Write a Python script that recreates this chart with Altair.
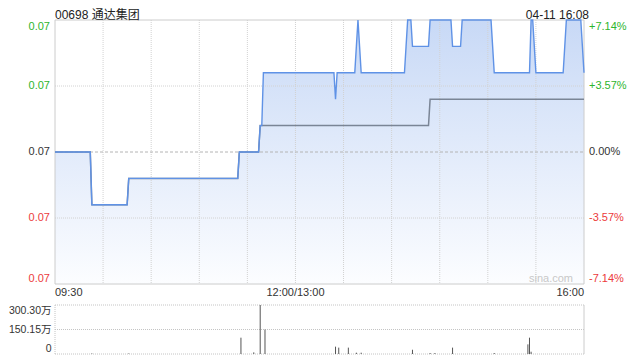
import altair as alt
import pandas as pd

# ---------------- data ----------------
stock_title = "00698 通达集团"
stamp_text = "04-11 16:08"
watermark_text = "sina.com"
prev_close = 0.070
price_domain = [0.065, 0.075]
pct_domain = [-7.14, 7.14]
vol_max = 300.30
session_end = 330  # minutes after 09:30, lunch break removed

# price (step runs: first minute of each run, price of the run)
price_run_start = [0, 23, 46, 115, 128, 130, 175, 176, 188, 189, 190, 191,
                   219, 220, 223, 234, 248, 254, 273, 274, 297, 299, 300,
                   318, 319, 329, 330]
price_run_value = [0.070, 0.068, 0.069, 0.070, 0.071, 0.073, 0.072, 0.073,
                   0.074, 0.075, 0.074, 0.073,
                   0.074, 0.075, 0.074, 0.075, 0.074, 0.075, 0.074, 0.073,
                   0.075, 0.074, 0.073,
                   0.074, 0.075, 0.074, 0.073]
# average price (step runs)
avg_run_start = [0, 23, 46, 115, 128, 234]
avg_run_value = [0.070, 0.068, 0.069, 0.070, 0.071, 0.072]

# volume (minute, 万股)
vol_minute = [23, 46, 116, 124, 128, 131, 175, 177, 183, 188, 191, 223,
              234, 237, 248, 274, 295, 296, 297]
vol_wan = [3, 3, 100, 10, 300.30, 150, 45, 39, 39, 8, 8, 26,
           6, 6, 39, 6, 59, 100, 14]

price_ticks = [0.075, 0.0725, 0.070, 0.0675, 0.065]
price_tick_labels = ["0.07", "0.07", "0.07", "0.07", "0.07"]
pct_ticks = [7.14, 3.57, 0.0, -3.57, -7.14]
pct_tick_labels = ["+7.14%", "+3.57%", "0.00%", "-3.57%", "-7.14%"]
vol_ticks = [300.30, 150.15, 0.0]
vol_tick_labels = ["300.30万", "150.15万", "0"]
time_ticks = [0, 150, 330]
time_labels = ["09:30", "12:00/13:00", "16:00"]
grid_minutes = [30, 60, 90, 120, 150, 180, 210, 240, 270, 300]


def expand(starts, values, n):
    out, j = [], 0
    for m in range(n + 1):
        while j + 1 < len(starts) and starts[j + 1] <= m:
            j += 1
        out.append(values[j])
    return out


line_df = pd.DataFrame({
    "minute": list(range(session_end + 1)),
    "price": expand(price_run_start, price_run_value, session_end),
    "avg": expand(avg_run_start, avg_run_value, session_end),
})
vol_df = pd.DataFrame({"minute": vol_minute, "vol": vol_wan})

# ---------------- layout / style ----------------
W, MAIN_H, VOL_TOP, H = 529, 264, 285, 334
FONT = "Liberation Sans, Arial, Noto Sans CJK SC, sans-serif"
GREEN, RED, DARK = "#2db52d", "#ec3b3b", "#333333"

xs = alt.Scale(domain=[0, session_end], nice=False, zero=False)
ps = alt.Scale(domain=price_domain, range=[MAIN_H, 0], nice=False, zero=False)
pcs = alt.Scale(domain=pct_domain, range=[MAIN_H, 0], nice=False, zero=False)
vs = alt.Scale(domain=[0, vol_max], range=[H, VOL_TOP], nice=False, zero=False)
tone_scale = alt.Scale(domain=["up", "flat", "down"], range=[GREEN, DARK, RED])


def X(field):
    return alt.X(field, scale=xs, axis=None)


def XD(v):
    return alt.XDatum(v, scale=xs, axis=None)


def Y(field, s):
    return alt.Y(field, scale=s, axis=None)


def YD(v, s):
    return alt.YDatum(v, scale=s, axis=None)


one = pd.DataFrame({"k": [0]})
layers = []

# price area with gradient
layers.append(
    alt.Chart(line_df).mark_area(
        interpolate="linear",
        color=alt.LinearGradient(
            gradient="linear",
            stops=[alt.GradientStop(color="#c8d9f6", offset=0),
                   alt.GradientStop(color="#fcfdff", offset=1)],
            x1=0, x2=0, y1=0, y2=1),
    ).encode(x=X("minute:Q"), y=Y("price:Q", ps), y2=alt.Y2Datum(price_domain[0]))
)

# vertical grid
layers.append(
    alt.Chart(pd.DataFrame({"m": grid_minutes})).mark_rule(
        color="#d2d2d2", strokeDash=[1, 1], strokeWidth=1
    ).encode(x=X("m:Q"), y=YD(price_domain[1], ps), y2=alt.Y2Datum(price_domain[0]))
)
# horizontal grid
layers.append(
    alt.Chart(pd.DataFrame({"v": [price_ticks[1], price_ticks[3]]})).mark_rule(
        color="#d2d2d2", strokeDash=[1, 1], strokeWidth=1
    ).encode(y=Y("v:Q", ps), x=XD(0), x2=alt.X2Datum(session_end))
)
layers.append(
    alt.Chart(pd.DataFrame({"v": [prev_close]})).mark_rule(
        color="#b4b4b4", strokeDash=[3, 2], strokeWidth=1
    ).encode(y=Y("v:Q", ps), x=XD(0), x2=alt.X2Datum(session_end))
)
# border of main panel
layers.append(
    alt.Chart(one).mark_rect(filled=False, color="#cccccc", strokeWidth=1).encode(
        x=XD(0), x2=alt.X2Datum(session_end),
        y=YD(price_domain[1], ps), y2=alt.Y2Datum(price_domain[0]))
)

# average line and price line
layers.append(
    alt.Chart(line_df).mark_line(color="#7a8596", strokeWidth=1.5, interpolate="linear")
    .encode(x=X("minute:Q"), y=Y("avg:Q", ps))
)
layers.append(
    alt.Chart(line_df).mark_line(color="#5f92e6", strokeWidth=1.4, interpolate="linear")
    .encode(x=X("minute:Q"), y=Y("price:Q", ps))
)


def tick_texts(df, field, scale, lo, hi, xval, dx, align, dys, colored, ref=None, size=11):
    out = []
    specs = [
        (f"datum.{field} >= {hi}", "top", dys[0]),
        (f"datum.{field} > {lo} && datum.{field} < {hi}", "middle", dys[1]),
        (f"datum.{field} <= {lo}", "bottom", dys[2]),
    ]
    for cond, base, dy in specs:
        ch = alt.Chart(df).transform_filter(cond)
        enc = dict(x=XD(xval), y=Y(f"{field}:Q", scale), text="label:N")
        if colored:
            ch = ch.transform_calculate(
                tone=f"datum.{field} > {ref} + 1e-9 ? 'up' : (datum.{field} < {ref} - 1e-9 ? 'down' : 'flat')")
            enc["color"] = alt.Color("tone:N", scale=tone_scale, legend=None)
        m = ch.mark_text(font=FONT, fontSize=size, align=align, baseline=base, dx=dx, dy=dy,
                         **({} if colored else {"color": DARK}))
        out.append(m.encode(**enc))
    return out


price_lab_df = pd.DataFrame({"v": price_ticks, "label": price_tick_labels})
pct_lab_df = pd.DataFrame({"p": pct_ticks, "label": pct_tick_labels})
vol_lab_df = pd.DataFrame({"v": vol_ticks, "label": vol_tick_labels})

layers += tick_texts(price_lab_df, "v", ps, price_domain[0], price_domain[1],
                     0, -5, "right", [1, 0, 0], True, prev_close)
layers += tick_texts(pct_lab_df, "p", pcs, pct_domain[0], pct_domain[1],
                     session_end, 5, "left", [1, 0, 0], True, 0)

# time labels under the main panel
time_df = pd.DataFrame({"m": time_ticks, "label": time_labels})
for cond, al in [("datum.m == 0", "left"), (f"datum.m > 0 && datum.m < {session_end}", "center"),
                 (f"datum.m == {session_end}", "right")]:
    layers.append(
        alt.Chart(time_df).transform_filter(cond).mark_text(
            font=FONT, fontSize=11, align=al, baseline="middle", dy=8.5, color=DARK
        ).encode(x=X("m:Q"), y=YD(price_domain[0], ps), text="label:N")
    )

# title, timestamp, watermark
layers.append(
    alt.Chart(pd.DataFrame({"t": [stock_title]})).mark_text(
        font=FONT, fontSize=12, align="left", baseline="alphabetic", dy=-1.5, color="#222222"
    ).encode(x=XD(0), y=YD(price_domain[1], ps), text="t:N")
)
layers.append(
    alt.Chart(pd.DataFrame({"t": [stamp_text]})).mark_text(
        font=FONT, fontSize=12, align="right", baseline="alphabetic", dx=5, dy=-1.5, color="#222222"
    ).encode(x=XD(session_end), y=YD(price_domain[1], ps), text="t:N")
)
layers.append(
    alt.Chart(pd.DataFrame({"t": [watermark_text]})).mark_text(
        font=FONT, fontSize=11, align="right", baseline="middle", dx=-11, dy=-5, color="#c8c8c8"
    ).encode(x=XD(session_end), y=YD(price_domain[0], ps), text="t:N")
)

# volume panel
layers.append(
    alt.Chart(pd.DataFrame({"v": vol_ticks})).mark_rule(
        color="#c4c4c4", strokeDash=[1, 1], strokeWidth=1
    ).encode(y=Y("v:Q", vs), x=XD(0), x2=alt.X2Datum(session_end))
)
layers.append(
    alt.Chart(one).mark_rule(color="#c4c4c4", strokeDash=[1, 1], strokeWidth=1).encode(
        x=XD(0), y=YD(vol_max, vs), y2=alt.Y2Datum(0))
)
layers.append(
    alt.Chart(one).mark_rule(color="#cccccc", strokeWidth=1).encode(
        x=XD(session_end), y=YD(vol_max, vs), y2=alt.Y2Datum(0))
)
layers.append(
    alt.Chart(vol_df).mark_rule(color="#555555", strokeWidth=1).encode(
        x=X("minute:Q"), y=Y("vol:Q", vs), y2=alt.Y2Datum(0))
)
layers += tick_texts(vol_lab_df, "v", vs, 0, vol_max, 0, -3.5, "right", [1, 0, 0], False,
                     size=10.5)

chart = alt.layer(*layers).resolve_scale(y="independent").properties(
    width=W, height=H,
    autosize=alt.AutoSizeParams(type="none"),
    padding={"left": 47, "top": 12, "right": 48, "bottom": 2},
    background="white",
).configure_view(stroke=None)

chart.save("out.html", embed_options={"renderer": "svg", "actions": False})
